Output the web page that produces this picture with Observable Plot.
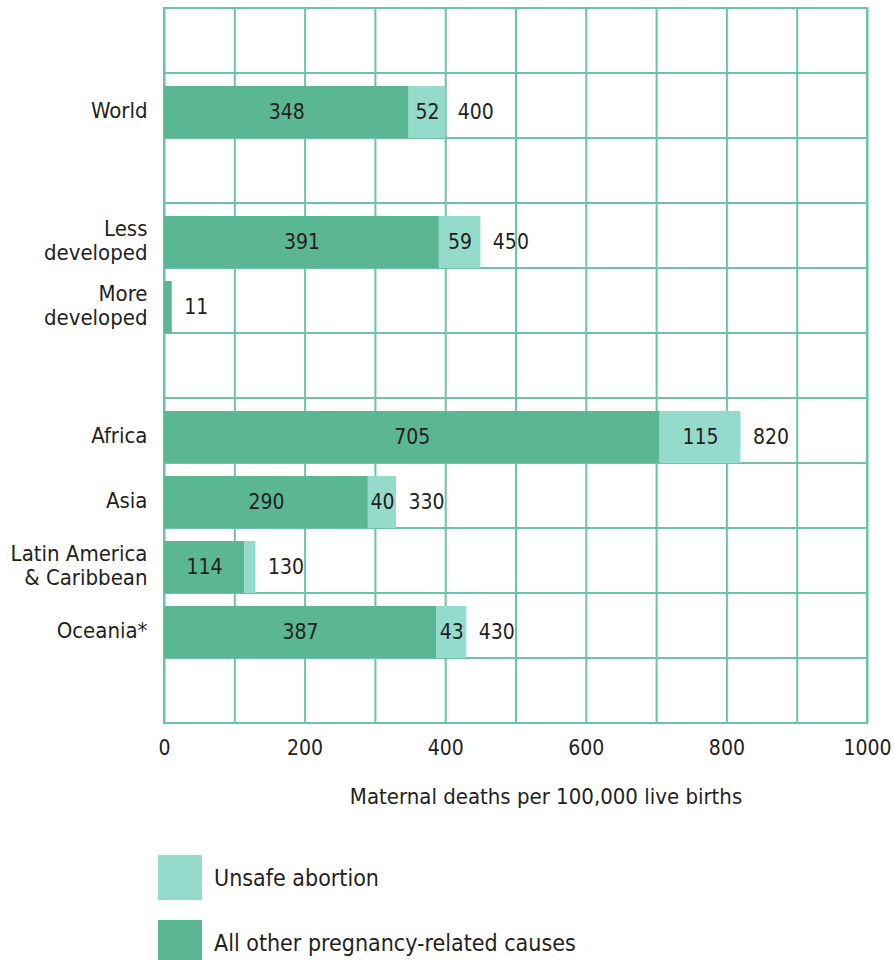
<!DOCTYPE html>
<html>
<head>
<meta charset="utf-8">
<script src="https://cdn.jsdelivr.net/npm/d3@7"></script>
<script src="https://cdn.jsdelivr.net/npm/@observablehq/plot@0.6"></script>
<style>
  body { margin: 0; background: #fff; }
  #wrap { position: relative; width: 894px; height: 960px; overflow: hidden;
    font-family: "DejaVu Sans Condensed", "Liberation Sans Narrow", "Roboto", sans-serif; color: #231f20; }
  .legend { position: absolute; left: 158px; top: 855px; }
  .item { display: flex; align-items: center; height: 45px; margin-bottom: 20px; }
  .sw { width: 44px; height: 45px; margin-right: 12px; }
  .lab { font-size: 23px; }
</style>
</head>
<body>
<div id="wrap"><div id="chart"></div>
<div class="legend" id="legend"></div></div>
<script>
// ---- data ----
const rows = ["_top", "World", "_gap1", "Less developed", "More developed", "_gap2",
  "Africa", "Asia", "Latin America & Caribbean", "Oceania*", "_bottom"];
const regions = ["World", "Less developed", "More developed", "Africa", "Asia",
  "Latin America & Caribbean", "Oceania*"];
const otherCauses = [348, 391, 11, 705, 290, 114, 387];
const unsafeAbortion = [52, 59, 0, 115, 40, 16, 43];
const totals = [400, 450, 11, 820, 330, 130, 430];
const regionLabels = {
  "Less developed": "Less\ndeveloped",
  "More developed": "More\ndeveloped",
  "Latin America & Caribbean": "Latin America\n& Caribbean"
};
const causes = ["All other pregnancy-related causes", "Unsafe abortion"];
const causeColors = ["#5bb793", "#94dbcc"];
const xTicks = [0, 200, 400, 600, 800, 1000];
const gridX = [0, 100, 200, 300, 400, 500, 600, 700, 800, 900, 1000];
const xTitle = "Maternal deaths per 100,000 live births";

// ---- build table ----
const long = [];
regions.forEach((r, i) => {
  long.push({region: r, cause: causes[0], value: otherCauses[i], show: otherCauses[i] >= 50});
  long.push({region: r, cause: causes[1], value: unsafeAbortion[i], show: unsafeAbortion[i] >= 30});
});
const totalData = regions.map((r, i) => ({region: r, total: totals[i]}));

const font = '"DejaVu Sans Condensed", "Liberation Sans Narrow", "Roboto", sans-serif';
const grid = "#6cc3a5";

const chart = Plot.plot({
  width: 894,
  height: 830,
  marginTop: 7,
  marginLeft: 164,
  marginRight: 27,
  marginBottom: 107,
  style: {fontFamily: font, fontSize: "22px", color: "#231f20", background: "#fff"},
  x: {domain: [0, 1000]},
  y: {domain: rows, padding: 0},
  color: {domain: causes, range: causeColors},
  marks: [
    Plot.barX(rows, {x1: 0, x2: 1000, y: d => d, fill: "none", stroke: grid, strokeWidth: 2}),
    Plot.ruleX(gridX, {stroke: grid, strokeWidth: 2}),
    Plot.barX(long, Plot.stackX({x: "value", y: "region", fill: "cause", insetTop: 13, insetBottom: 0})),
    Plot.text(long, Plot.stackX({x: "value", y: "region", text: d => d.show ? String(d.value) : null,
      dy: 6, fill: "#231f20", fontSize: 21})),
    Plot.text(totalData, {x: "total", y: "region", text: d => String(d.total), textAnchor: "start",
      dx: 12, dy: 6, fill: "#231f20", fontSize: 21}),
    Plot.axisX({ticks: xTicks, tickSize: 0, tickPadding: 17, label: null, fontSize: 21,
      tickFormat: d => String(d)}),
    Plot.axisY({tickSize: 0, tickPadding: 17, label: null, dy: 4, fontSize: 22, lineHeight: 1.1,
      tickFormat: d => d.startsWith("_") ? "" : (regionLabels[d] || d)}),
    Plot.text([xTitle], {text: d => d, frameAnchor: "bottom", dy: 80, dx: 30, fontSize: 22, fill: "#231f20"})
  ]
});
document.getElementById("chart").appendChild(chart);

// legend (top to bottom: abortion, other)
const leg = document.getElementById("legend");
[1, 0].forEach(i => {
  const it = document.createElement("div");
  it.className = "item";
  it.innerHTML = `<div class="sw" style="background:${causeColors[i]}"></div><div class="lab">${causes[i]}</div>`;
  leg.appendChild(it);
});
</script>
</body>
</html>
